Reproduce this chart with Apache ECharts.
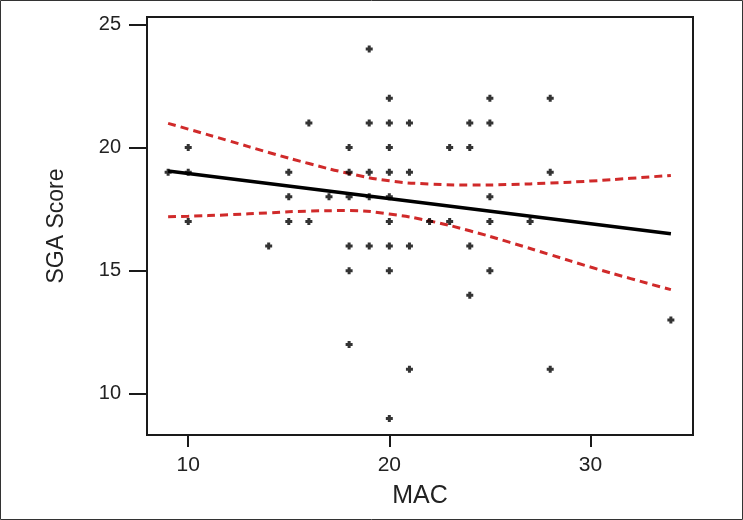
<!DOCTYPE html>
<html>
<head>
<meta charset="utf-8">
<script src="https://cdn.jsdelivr.net/npm/echarts@6/dist/echarts.min.js"></script>
<style>
  html, body { margin: 0; padding: 0; background: #fff; }
  #chart { width: 743px; height: 520px; }
</style>
</head>
<body>
<div id="chart"></div>
<script>
// scatter points [MAC, SGA score]
const points = [
  [9, 19], [10, 20], [10, 19], [10, 17],
  [14, 16],
  [15, 19], [15, 18], [15, 17],
  [16, 21], [16, 17],
  [17, 18],
  [18, 20], [18, 19], [18, 18], [18, 16], [18, 15], [18, 12],
  [19, 24], [19, 21], [19, 19], [19, 18], [19, 16],
  [20, 22], [20, 21], [20, 20], [20, 19], [20, 18], [20, 17], [20, 16], [20, 15], [20, 9],
  [21, 21], [21, 19], [21, 16], [21, 11],
  [22, 17],
  [23, 20], [23, 17],
  [24, 21], [24, 20], [24, 16], [24, 14],
  [25, 22], [25, 21], [25, 18], [25, 17], [25, 15],
  [27, 17],
  [28, 22], [28, 19], [28, 11],
  [34, 13]
];

// fitted line ends
const fitX = [9, 34];
const fitY = [19.05, 16.5];

// confidence band
const ciX = [9, 10, 12, 14, 16, 18, 20, 22, 24, 26, 28, 30, 32, 34];
const ciUpper = [20.98, 20.75, 20.28, 19.8, 19.35, 18.95, 18.65, 18.52, 18.48, 18.5, 18.56, 18.64, 18.75, 18.87];
const ciLower = [17.19, 17.21, 17.27, 17.35, 17.42, 17.44, 17.3, 17.02, 16.62, 16.15, 15.65, 15.15, 14.68, 14.23];

const xTicks = [10, 20, 30];
const yTicks = [10, 15, 20, 25];

const zip = (xs, ys) => xs.map((x, i) => [x, ys[i]]);
const font = "'Liberation Sans', Arial, sans-serif";
const plus = "path://M2,0H5V2H7V5H5V7H2V5H0V2H2Z";

const chart = echarts.init(document.getElementById("chart"));
chart.setOption({
  animation: false,
  graphic: [{
    type: "rect",
    shape: { x: 0.5, y: 0.5, width: 742, height: 519 },
    style: { fill: "none", stroke: "#333", lineWidth: 1 },
    silent: true
  }],
  grid: { left: 147, top: 17, width: 546, height: 418, show: true, borderColor: "#1a1a1a", borderWidth: 2, backgroundColor: "#fff" },
  xAxis: {
    type: "value", min: 7.95, max: 35.1, interval: 10,
    name: "MAC", nameLocation: "middle", nameGap: 49,
    nameTextStyle: { fontFamily: font, fontSize: 25, color: "#222" },
    axisLine: { show: true, onZero: false, lineStyle: { color: "#1a1a1a", width: 2 } },
    axisTick: { show: true, inside: false, length: 12, lineStyle: { color: "#1a1a1a", width: 2 }, customValues: xTicks },
    axisLabel: { fontFamily: font, fontSize: 21, color: "#222", margin: 20, customValues: xTicks },
    splitLine: { show: false }
  },
  yAxis: {
    type: "value", min: 8.33, max: 25.3, interval: 5,
    name: "SGA Score", nameLocation: "middle", nameGap: 79, nameRotate: 90,
    nameTextStyle: { fontFamily: font, fontSize: 23, color: "#222" },
    axisLine: { show: true, onZero: false, lineStyle: { color: "#1a1a1a", width: 2 } },
    axisTick: { show: true, inside: false, length: 18, lineStyle: { color: "#1a1a1a", width: 2 }, customValues: yTicks },
    axisLabel: { fontFamily: font, fontSize: 20, color: "#222", margin: 26, customValues: yTicks },
    splitLine: { show: false }
  },
  series: [
    {
      type: "line", data: zip(ciX, ciUpper), smooth: true, symbol: "none",
      lineStyle: { color: "#d02a2a", width: 3, type: [8, 5] }, z: 2
    },
    {
      type: "line", data: zip(ciX, ciLower), smooth: true, symbol: "none",
      lineStyle: { color: "#d02a2a", width: 3, type: [8, 5] }, z: 2
    },
    {
      type: "line", data: zip(fitX, fitY), symbol: "none",
      lineStyle: { color: "#000", width: 3.5 }, z: 3
    },
    {
      type: "scatter", data: points, symbol: plus, symbolSize: 7,
      itemStyle: { color: "#000" }, z: 4
    }
  ]
});
</script>
</body>
</html>
